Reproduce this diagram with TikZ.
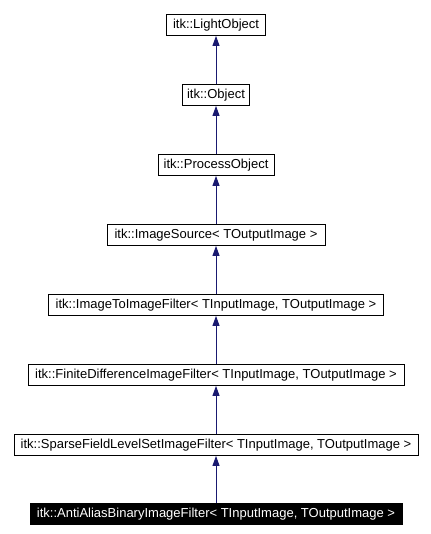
\documentclass[tikz,border=0pt]{standalone}
\usepackage{fontspec}
\setmainfont{Liberation Sans}
\usetikzlibrary{arrows.meta}
\definecolor{edgeblue}{HTML}{191970}
\begin{document}
\begin{tikzpicture}[x=1pt,y=-1pt,
  cls/.style={draw=black,line width=0.9pt,fill=white,minimum height=21pt,inner sep=0pt,
    font=\fontsize{13}{15}\selectfont,anchor=north},
  cur/.style={cls,fill=black,text=white},
  inh/.style={draw=edgeblue,line width=0.9pt,-{Triangle[length=10pt,width=7pt]}}]
\useasboundingbox[fill=white] (0,0) rectangle (430,534);
\node[cls,minimum width=99pt] (a) at (216,14) {itk::LightObject};
\node[cls,minimum width=67pt] (b) at (216,84) {itk::Object};
\node[cls,minimum width=116pt] (c) at (216,154) {itk::ProcessObject};
\node[cls,minimum width=218pt] (d) at (216,224) {itk::ImageSource< TOutputImage >};
\node[cls,minimum width=335pt] (e) at (216,294) {itk::ImageToImageFilter< TInputImage, TOutputImage >};
\node[cls,minimum width=376pt] (f) at (216,364) {itk::FiniteDifferenceImageFilter< TInputImage, TOutputImage >};
\node[cls,minimum width=404pt] (g) at (216,434) {itk::SparseFieldLevelSetImageFilter< TInputImage, TOutputImage >};
\node[cur,minimum width=372pt] (h) at (216,503) {itk::AntiAliasBinaryImageFilter< TInputImage, TOutputImage >};
\draw[inh] (b.north) -- (a.south);
\draw[inh] (c.north) -- (b.south);
\draw[inh] (d.north) -- (c.south);
\draw[inh] (e.north) -- (d.south);
\draw[inh] (f.north) -- (e.south);
\draw[inh] (g.north) -- (f.south);
\draw[inh] (h.north) -- (g.south);
\end{tikzpicture}
\end{document}
